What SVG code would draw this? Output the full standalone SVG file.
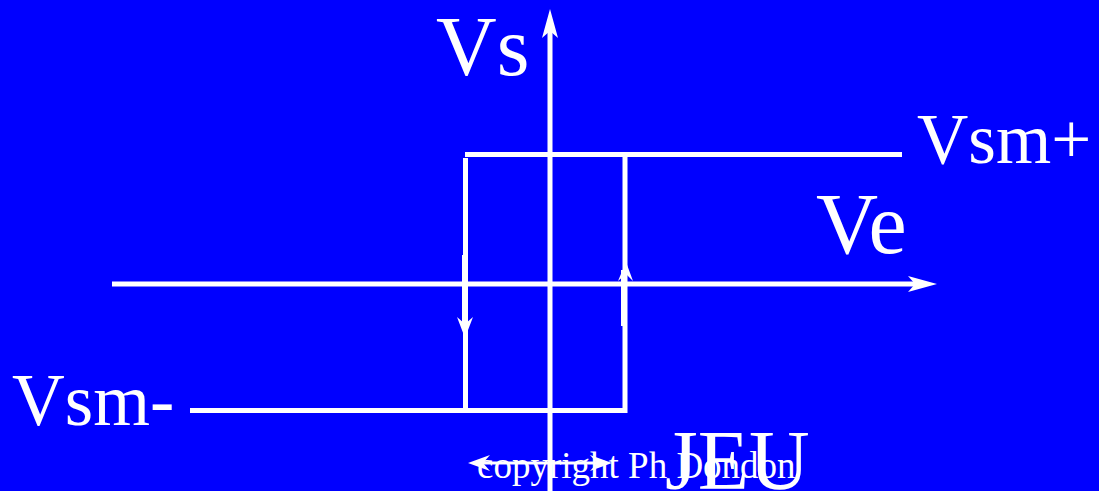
<svg xmlns="http://www.w3.org/2000/svg" width="1099" height="491" viewBox="0 0 1099 491">
<style>
.ln{stroke:#fff;fill:none;stroke-width:5}
.thin{stroke:#fff;fill:none;stroke-width:3}
.ah{fill:#fff;stroke:none}
.t{fill:#fff;font-family:"Liberation Serif","Times New Roman",serif}
</style>
<rect x="0" y="0" width="1099" height="491" fill="#0000ff"/>
<g id="connectors">
<line class="ln" x1="550" y1="30" x2="550" y2="491"/>
<path class="ah" d="M550,9 L558,38 L550,31 L542,38 Z"/>
<line class="ln" x1="112" y1="284" x2="916" y2="284"/>
<path class="ah" d="M937,284 L908,276 L915,284 L908,292 Z"/>
<g id="hysteresis">
<polyline class="ln" points="465,154.5 902,154.5"/>
<line class="ln" x1="465.5" y1="158" x2="465.5" y2="410"/>
<line class="ln" x1="625" y1="152" x2="625" y2="413"/>
<line class="ln" x1="190" y1="410.5" x2="627" y2="410.5"/>
<line class="thin" x1="463.5" y1="255" x2="463.5" y2="330"/>
<path class="ah" d="M465,338 L473,317 L465,324 L457,317 Z"/>
<line class="thin" x1="622.5" y1="270" x2="622.5" y2="326"/>
<path class="ah" d="M626,262 L633,281 L626,274 L618,281 Z"/>
</g>
<line class="thin" x1="478" y1="463" x2="600" y2="463"/>
<path class="ah" d="M468,463 L490,455 L483,463 L490,471 Z"/>
<path class="ah" d="M612,463 L590,455 L597,463 L590,471 Z"/>
</g>
<g id="label-vs"><text class="t" x="436" y="75" font-size="84">Vs</text></g>
<g id="label-ve"><text class="t" x="816" y="253" font-size="86">Ve</text></g>
<g id="label-vsmp"><text class="t" x="917" y="163" font-size="71">Vsm+</text></g>
<g id="label-vsmm"><text class="t" x="12" y="425" font-size="73">Vsm-</text></g>
<g id="label-copy"><text class="t" x="477" y="478" font-size="37">copyright Ph Dondon</text></g>
<g id="label-jeu"><text class="t" x="665" y="489" font-size="84">JEU</text></g>
</svg>
